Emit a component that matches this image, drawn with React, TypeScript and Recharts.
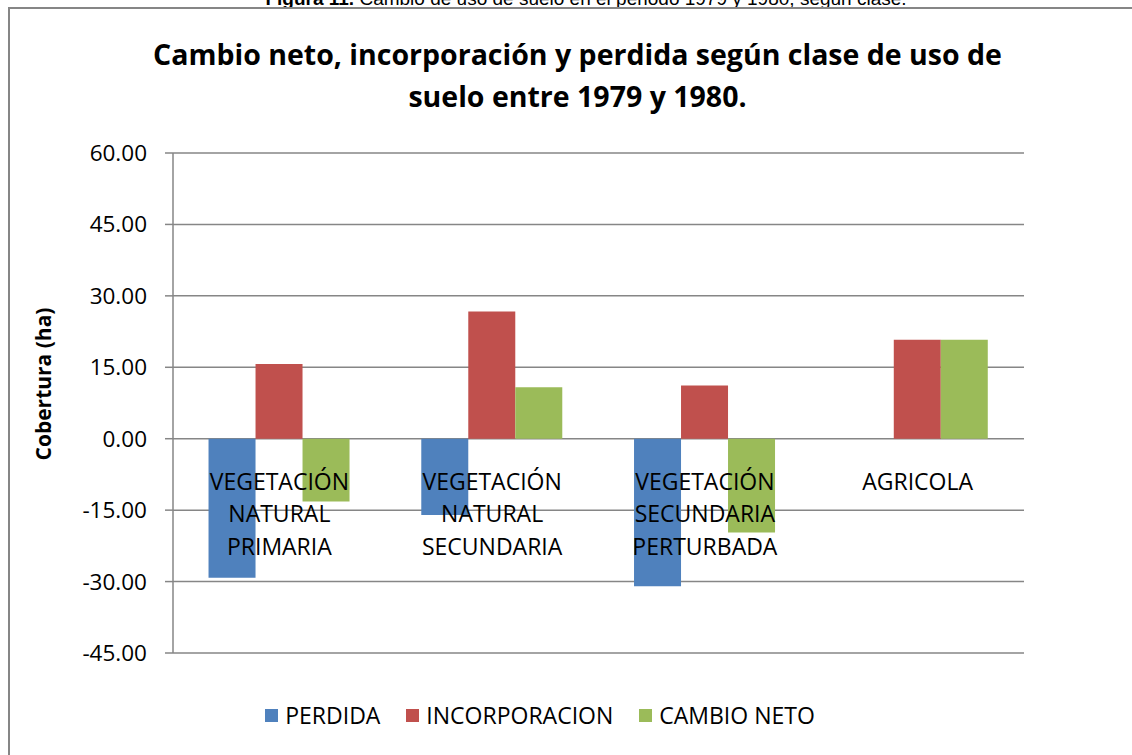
import React from 'react';
import { BarChart, Bar, XAxis, YAxis, CartesianGrid } from 'recharts';

// values (ha)
const categories = [
  'VEGETACIÓN NATURAL PRIMARIA',
  'VEGETACIÓN NATURAL SECUNDARIA',
  'VEGETACIÓN SECUNDARIA PERTURBADA',
  'AGRICOLA',
];
const perdida = [-29.2, -16.0, -31.0, 0];
const incorporacion = [15.7, 26.7, 11.2, 20.8];
const cambioNeto = [-13.2, 10.8, -19.7, 20.8];
const yTicks = [-45, -30, -15, 0, 15, 30, 45, 60];

const series = [
  { key: 'perdida', name: 'PERDIDA', color: '#4F81BD' },
  { key: 'incorporacion', name: 'INCORPORACION', color: '#C0504D' },
  { key: 'cambioNeto', name: 'CAMBIO NETO', color: '#9BBB59' },
];

const data = categories.map((c, i) => ({
  name: c,
  perdida: perdida[i],
  incorporacion: incorporacion[i],
  cambioNeto: cambioNeto[i],
}));

const FONT = '"Open Sans", sans-serif';
const GRID = '#868686';
const PLOT_TOP = 153;
const PLOT_H = 500;
const Y_MIN = -45;
const Y_MAX = 60;
const zeroY = PLOT_TOP + (PLOT_H * Y_MAX) / (Y_MAX - Y_MIN);

// Excel puts the category labels right under the zero line
const renderCategoryTick = (props: any) => {
  const { x, payload } = props;
  const lines = String(payload.value).split(' ');
  return (
    <g>
      {lines.map((l: string, i: number) => (
        <text
          key={i}
          x={x}
          y={zeroY + 43 + i * 32.5}
          dy="0.36em"
          textAnchor="middle"
          fontFamily={FONT}
          fontSize={23}
          fill="#000"
        >
          {l}
        </text>
      ))}
    </g>
  );
};

export default function App() {
  return (
    <div style={{ position: 'absolute', left: 0, top: 0, width: 1132, height: 755, overflow: 'hidden', background: '#fff' }}>
      {/* caption, cut off at the top of the picture as in the source */}
      <div style={{ position: 'absolute', top: -11, left: 0, width: 1172, textAlign: 'center', fontFamily: '"Liberation Sans", Arial, sans-serif', fontSize: 19, lineHeight: '20px', color: '#000' }}>
        <b>Figura 11.</b> Cambio de uso de suelo en el periodo 1979 y 1980, según clase.
      </div>
      {/* chart frame */}
      <div style={{ position: 'absolute', left: 8, top: 7, width: 1200, height: 800, border: `2px solid ${GRID}` }} />

      <div style={{ position: 'absolute', top: 33, left: 0, width: 1155, textAlign: 'center', fontFamily: FONT, fontWeight: 700, fontSize: 28.5, lineHeight: '42px', color: '#000' }}>
        Cambio neto, incorporación y perdida según clase de uso de
        <br />
        suelo entre 1979 y 1980.
      </div>

      <div style={{ position: 'absolute', left: 43, top: 384, transform: 'translate(-50%, -50%) rotate(-90deg)', whiteSpace: 'nowrap', fontFamily: FONT, fontWeight: 700, fontSize: 21, color: '#000' }}>
        Cobertura (ha)
      </div>

      <div style={{ position: 'absolute', left: 0, top: 0 }}>
        <BarChart
          width={1132}
          height={755}
          data={data}
          margin={{ top: PLOT_TOP, bottom: 755 - PLOT_TOP - PLOT_H - 1, left: 73, right: 108 }}
          barCategoryGap="16.7%"
          barGap={0}
        >
          <CartesianGrid vertical={false} stroke={GRID} strokeWidth={1.5} />
          <XAxis dataKey="name" height={1} axisLine={false} tickLine={false} tick={renderCategoryTick} interval={0} />
          <YAxis
            width={100}
            domain={[Y_MIN, Y_MAX]}
            ticks={yTicks}
            interval={0}
            tickFormatter={(v: number) => v.toFixed(2)}
            axisLine={{ stroke: GRID, strokeWidth: 1.5 }}
            tickLine={{ stroke: GRID, strokeWidth: 1.5 }}
            tickSize={8}
            tickMargin={18}
            tick={{ fill: '#000', fontFamily: FONT, fontSize: 22.5 }}
          />
          {series.map((s) => (
            <Bar key={s.key} dataKey={s.key} name={s.name} fill={s.color} isAnimationActive={false} />
          ))}
        </BarChart>
      </div>

      {/* legend */}
      <div style={{ position: 'absolute', top: 699, left: 0, width: 1080, display: 'flex', justifyContent: 'center', alignItems: 'center', fontFamily: FONT, fontSize: 23, color: '#000' }}>
        {series.map((s, i) => (
          <div key={s.key} style={{ display: 'flex', alignItems: 'center', marginRight: i < series.length - 1 ? 26 : 0 }}>
            <span style={{ display: 'inline-block', width: 13, height: 13, background: s.color, marginRight: 7 }} />
            <span>{s.name}</span>
          </div>
        ))}
      </div>
    </div>
  );
}
